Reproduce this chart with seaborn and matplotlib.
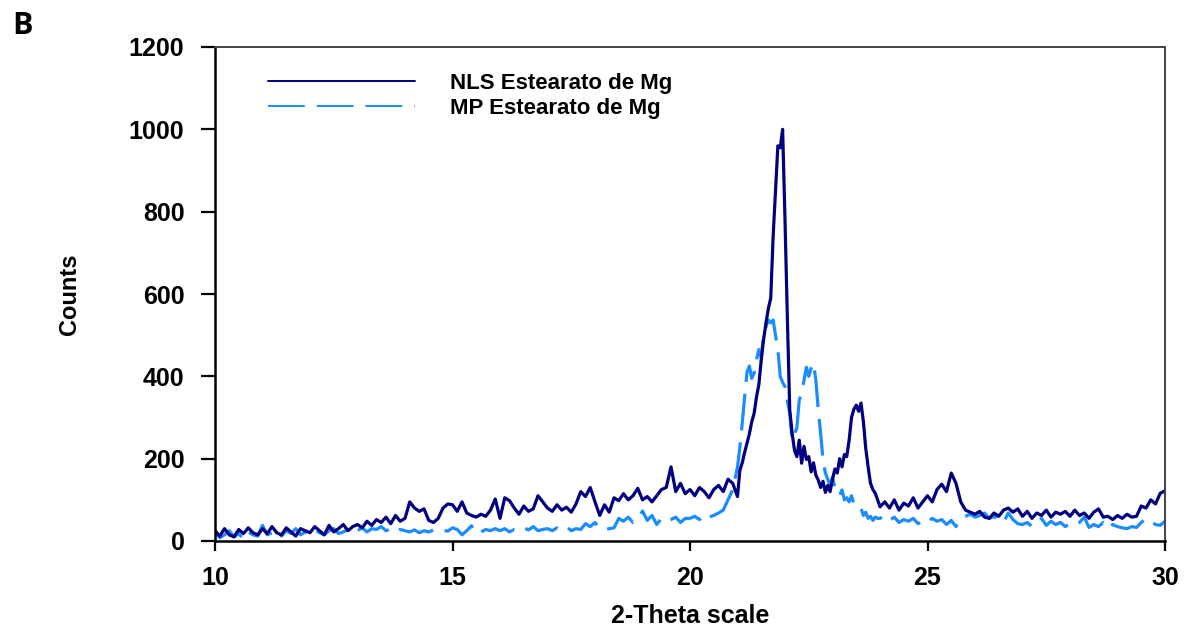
import numpy as np
import pandas as pd
import matplotlib
matplotlib.use("Agg")
import matplotlib.pyplot as plt
import seaborn as sns
from matplotlib.lines import Line2D

# ---------------- data ----------------
# 2-theta sampling: 10.0-20.9 step 0.1, 21.00-23.95 step 0.05, 24.0-30.0 step 0.1
theta_low = np.round(np.arange(10.0, 20.95, 0.1), 2)
theta_peak = np.round(np.arange(21.0, 23.975, 0.05), 2)
theta_high = np.round(np.arange(24.0, 30.05, 0.1), 2)

nls_low = [
    25, 12, 30, 15, 10, 28, 18, 32, 20, 15,
    30, 18, 35, 20, 15, 32, 22, 12, 30, 25,
    20, 35, 25, 15, 38, 22, 30, 40, 25, 35,
    40, 32, 48, 38, 52, 45, 58, 42, 62, 48,
    55, 95, 80, 72, 78, 50, 45, 55, 80, 90,
    88, 72, 95, 68, 62, 58, 65, 60, 75, 102,
    55, 105, 98, 80, 65, 85, 72, 78, 110, 95,
    80, 72, 88, 75, 82, 70, 90, 120, 108, 130,
    95, 62, 88, 70, 105, 98, 115, 100, 110, 128,
    100, 108, 95, 110, 125, 130, 180, 120, 140, 115,
    125, 110, 130, 120, 105, 125, 135, 120, 150, 140,
]
nls_peak = [
    108, 172, 190, 215, 238, 260, 290, 310, 350, 380,
    440, 490, 530, 565, 590, 740, 850, 960, 955, 1000,
    780, 540, 318, 262, 220, 205, 245, 189, 230, 198,
    205, 168, 190, 160, 148, 130, 145, 118, 135, 120,
    150, 175, 165, 200, 180, 210, 205, 245, 300, 320,
    330, 315, 335, 290, 225, 180, 140, 125, 116, 100,
]
nls_high = [
    83, 95, 80, 100, 75, 92, 85, 105, 80, 95,
    110, 95, 125, 138, 120, 165, 140, 95, 75, 70,
    65, 72, 58, 55, 68, 60, 75, 80, 70, 78,
    60, 72, 55, 68, 62, 75, 58, 70, 65, 72,
    60, 75, 62, 68, 55, 70, 78, 58, 60, 52,
    62, 55, 65, 58, 60, 85, 80, 100, 90, 116,
    122,
]

mp_low = [
    20, 8, 15, 25, 10, 18, 5, 22, 15, 12,
    38, 15, 20, 28, 12, 25, 18, 30, 15, 22,
    18, 28, 20, 15, 25, 30, 18, 22, 28, 20,
    25, 32, 22, 30, 28, 35, 25, 30, 22, 28,
    25, 22, 27, 20, 25, 22, 27, 23, 26, 24,
    32, 28, 15, 25, 37, 18, 22, 28, 25, 30,
    25, 30, 22, 28, 25, 32, 27, 35, 25, 28,
    30, 25, 32, 28, 35, 25, 30, 28, 42, 35,
    45, 30, 28, 30, 32, 55, 48, 58, 45, 52,
    73, 50, 62, 40, 55, 48, 52, 58, 45, 55,
    55, 60, 52, 65, 58, 62, 68, 75, 100, 125,
]
mp_peak = [
    180, 228, 287, 350, 410, 425, 395, 408, 440, 465,
    445, 505, 520, 537, 530, 537, 500, 465, 400, 385,
    375, 340, 311, 245, 260, 275, 342, 360, 390, 422,
    400, 420, 432, 390, 320, 262, 197, 165, 150, 135,
    155, 130, 120, 110, 124, 100, 105, 95, 110, 90,
    83, 85, 80, 62, 70, 55, 60, 50, 58, 55,
]
mp_high = [
    55, 62, 50, 58, 45, 52, 48, 55, 42, 50,
    45, 55, 48, 52, 40, 50, 35, 55, 60, 65,
    58, 62, 68, 55, 60, 50, 45, 68, 52, 42,
    40, 45, 35, 42, 55, 38, 48, 40, 45, 35,
    42, 38, 45, 58, 33, 40, 35, 45, 30, 40,
    35, 32, 30, 35, 33, 45, 55, 48, 40, 38,
    48,
]

series_names = ["NLS Estearato de Mg", "MP Estearato de Mg"]
series_colors = ["#000080", "#1a8cff"]
x_ticks = [10, 15, 20, 25, 30]
y_ticks = [0, 200, 400, 600, 800, 1000, 1200]

theta = np.concatenate([theta_low, theta_peak, theta_high])
nls = np.array(nls_low + nls_peak + nls_high, dtype=float)
mp = np.array(mp_low + mp_peak + mp_high, dtype=float)

df = pd.concat([
    pd.DataFrame({"theta": theta, "counts": nls, "sample": series_names[0]}),
    pd.DataFrame({"theta": theta, "counts": mp, "sample": series_names[1]}),
], ignore_index=True)

# ---------------- plot ----------------
sns.set_theme(style="white")
plt.rcParams["font.family"] = ["Liberation Sans", "DejaVu Sans"]
plt.rcParams["lines.scale_dashes"] = False
plt.rcParams["text.color"] = "black"
plt.rcParams["axes.labelcolor"] = "black"
plt.rcParams["xtick.color"] = "black"
plt.rcParams["ytick.color"] = "black"

fig = plt.figure(figsize=(11.84, 6.30), dpi=100)
ax = fig.add_axes([215 / 1184, 1 - 541 / 630, 950 / 1184, 494 / 630])

DASH = [26.5, 8.6]

# draw MP first so NLS sits on top
for name, color in [(series_names[1], series_colors[1]), (series_names[0], series_colors[0])]:
    sns.lineplot(data=df[df["sample"] == name], x="theta", y="counts",
                 color=color, linewidth=2.3, ax=ax, label=name,
                 estimator=None, sort=False)

ax.lines[0].set_dashes(DASH)

ax.set_xlim(10, 30)
ax.set_ylim(0, 1200)
ax.set_xticks(x_ticks)
ax.set_yticks(y_ticks)
ax.set_xticklabels([str(t) for t in x_ticks], fontsize=18, fontweight="bold")
ax.set_yticklabels([str(t) for t in y_ticks], fontsize=18, fontweight="bold")

ax.tick_params(axis="y", direction="out", length=10, width=1.6, pad=12,
               left=True, colors="black")
ax.tick_params(axis="x", direction="out", length=7, width=1.6, pad=11,
               bottom=True, colors="black")

for side in ["left", "bottom"]:
    ax.spines[side].set_color("black")
    ax.spines[side].set_linewidth(1.8)
for side in ["top", "right"]:
    ax.spines[side].set_visible(True)
    ax.spines[side].set_color("#444444")
    ax.spines[side].set_linewidth(1.4)

ax.set_xlabel("2-Theta scale", fontsize=18, fontweight="bold", color="black")
ax.xaxis.set_label_coords(0.5, -0.128)
ax.set_ylabel("Counts", fontsize=17, fontweight="bold", color="black",
              family=["Liberation Sans Narrow", "Liberation Sans", "DejaVu Sans"])
ax.yaxis.set_label_coords(-0.141, 0.5)

# legend: NLS first, MP second
h_nls = Line2D([], [], color=series_colors[0], linewidth=1.4)
h_mp = Line2D([], [], color=series_colors[1], linewidth=1.4)
h_mp.set_dashes(DASH)
leg = ax.legend([h_nls, h_mp], series_names, loc="upper left",
                bbox_to_anchor=(0.056, 0.948), frameon=False,
                borderaxespad=0, borderpad=0,
                prop={"size": 16, "weight": "bold"},
                handlelength=6.6, handletextpad=1.6, labelspacing=0.18)
for t in leg.get_texts():
    t.set_color("black")

fig.text(12 / 1184, 1 - 26 / 630, "B", fontsize=22, fontweight="bold",
         family=["Open Sans", "DejaVu Sans"], ha="left", va="center",
         color="black")

fig.savefig("out.png", dpi=100, facecolor="white")
